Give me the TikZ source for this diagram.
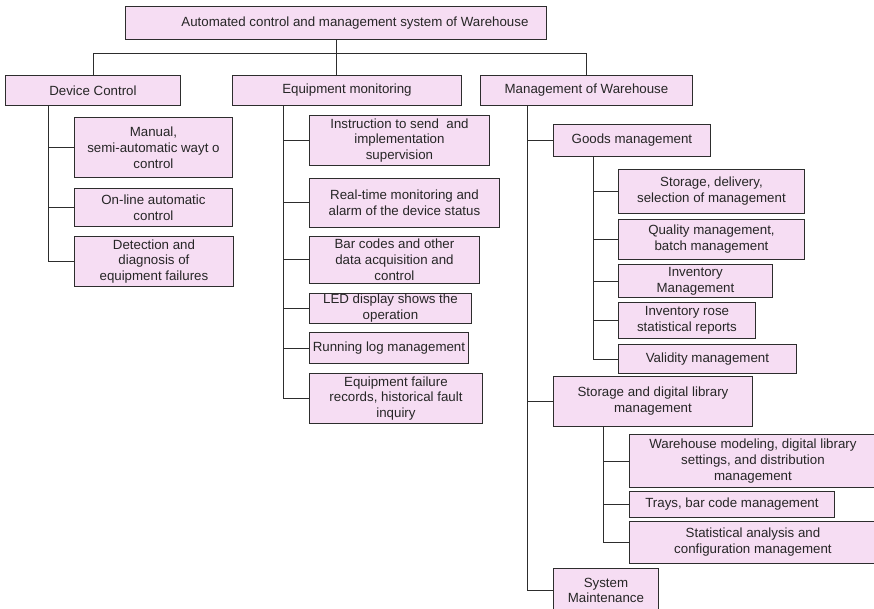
\documentclass[tikz,border=0pt]{standalone}
\usepackage{fontspec}
\setmainfont{Liberation Sans}
\definecolor{boxfill}{RGB}{246,221,243}
\definecolor{linec}{RGB}{45,45,45}
\newcommand\fs{\fontsize{13.3}{15.8}\selectfont}
% \bx{name}{x1}{y1}{x2}{y2}{text}: box given by its top-left and bottom-right corners
\newcommand\bx[6]{%
  \node[box, minimum width=#4pt-#2pt, minimum height=#5pt-#3pt] (#1) at (#2,#3) {#6};}
\tikzset{
  box/.style={draw=linec, fill=boxfill, line width=0.9pt, inner sep=0pt,
              align=center, font=\fs, anchor=north west, text=black!85},
  link/.style={draw=linec, line width=0.9pt}
}
\begin{document}
\begin{tikzpicture}[x=1pt,y=-1pt]
\useasboundingbox (0,0) rectangle (874,609);
\clip (0,0) rectangle (874,609);

% root and first level
\bx{top}{125}{6}{546}{39}{\hspace*{38pt}Automated control and management system of Warehouse}
\bx{dc}{5}{75}{180}{105}{Device Control}
\bx{em}{232}{75}{461}{105}{Equipment monitoring}
\bx{mw}{480}{75}{692}{105}{Management of Warehouse}

% device control
\bx{dc1}{74}{117}{232}{177}{Manual,\\ semi-automatic wayt o\\ control}
\bx{dc2}{74}{188}{232}{226}{On-line automatic\\ control}
\bx{dc3}{74}{236}{233}{286}{Detection and\\ diagnosis of\\ equipment failures}

% equipment monitoring
\bx{em1}{309}{115}{489}{165}{Instruction to send\ \ and\\ implementation\\ supervision}
\bx{em2}{309}{178}{499}{227}{Real-time monitoring and\\ alarm of the device status}
\bx{em3}{309}{236}{479}{283}{Bar codes and other\\ data acquisition and\\ control}
\bx{em4}{309}{293}{471}{323}{LED display shows the\\ operation}
\bx{em5}{309}{332}{468}{363}{Running log management}
\bx{em6}{309}{373}{482}{423}{Equipment failure\\ records, historical fault\\ inquiry}

% management of warehouse
\bx{gm}{553}{124}{710}{156}{Goods management}
\bx{g1}{618}{169}{804}{213}{Storage, delivery,\\ selection of management}
\bx{g2}{618}{219}{804}{259}{Quality management,\\ batch management}
\bx{g3}{618}{264}{772}{297}{Inventory\\ Management}
\bx{g4}{618}{302}{755}{338}{Inventory rose\\ statistical reports}
\bx{g5}{618}{344}{796}{373}{Validity management}
\bx{sd}{553}{376}{752}{426}{Storage and digital library\\ management}
\bx{s1}{629}{434}{876}{487}{Warehouse modeling, digital library\\ settings, and distribution\\ management}
\bx{s2}{629}{491}{834}{517}{Trays, bar code management}
\bx{s3}{629}{521}{876}{563}{Statistical analysis and\\ configuration management}
\bx{sm}{553}{568}{658}{612}{System\\ Maintenance}

% branch points below the parent boxes
\path (top.south) ++(0,14) coordinate (bus);
\path (dc.south west) ++(43,0) coordinate (dcx);
\path (em.south west) ++(51,0) coordinate (emx);
\path (mw.south west) ++(47,0) coordinate (mwx);
\path (gm.south west) ++(40,0) coordinate (gmx);
\path (sd.south west) ++(50,0) coordinate (sdx);

% root to first level
\draw[link] (top.south) -- (bus);
\draw[link] (dc.north) |- (bus) -| (mw.north);
\draw[link] (bus) -- (bus |- em.north);

% tree trunks and branches
\foreach \c in {dc1,dc2,dc3} \draw[link] (dcx) |- (\c.west);
\foreach \c in {em1,em2,em3,em4,em5,em6} \draw[link] (emx) |- (\c.west);
\foreach \c in {gm,sd,sm} \draw[link] (mwx) |- (\c.west);
\foreach \c in {g1,g2,g3,g4,g5} \draw[link] (gmx) |- (\c.west);
\foreach \c in {s1,s2,s3} \draw[link] (sdx) |- (\c.west);
\end{tikzpicture}
\end{document}
